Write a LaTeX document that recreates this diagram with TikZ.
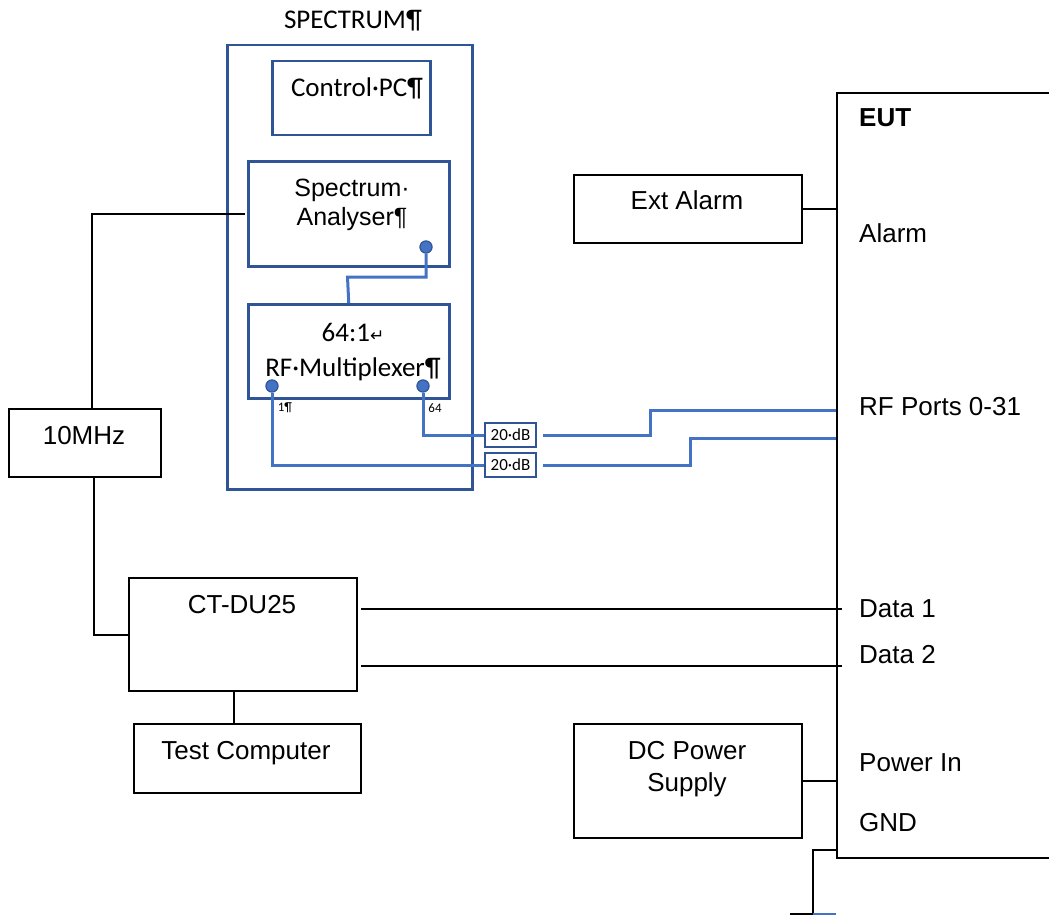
\documentclass[tikz,border=0pt]{standalone}
\usepackage{fontspec}
\setmainfont{Liberation Sans}
\newfontfamily\calibri{Carlito}
\newfontfamily\glyphfont{DejaVu Sans}
\usepackage{tikz}
\usetikzlibrary{positioning}
\definecolor{mNavy}{HTML}{2F5597}
\definecolor{mBlue}{HTML}{4472C4}

\begin{document}
\begin{tikzpicture}[x=1pt, y=-1pt,
    unit/.style={draw, line width=2pt, anchor=north west, inner sep=0pt},
    rack/.style={draw=mNavy, line width=2.5pt, anchor=north west, inner sep=0pt},
    txt/.style={font=\fontsize{26}{32}\selectfont, align=center, inner sep=0pt},
    msg/.style={font=\calibri\fontsize{27}{35}\selectfont, align=center, inner sep=0pt},
    tag/.style={font=\calibri\fontsize{13}{13}\selectfont, inner sep=0pt},
    port/.style={circle, fill=mBlue, draw=mNavy, line width=1pt, minimum size=12pt, inner sep=0pt},
    atten/.style={draw=mNavy, line width=2.5pt, fill=white, minimum width=51pt, minimum height=24pt,
      inner sep=0pt, font=\calibri\fontsize{17}{17}\selectfont},
    wire/.style={line width=2pt},
    coax/.style={mBlue, line width=3pt}]
    \useasboundingbox (0,0) rectangle (1049,915);

    % spectrum rack
    \node[msg] (spectxt) at (353,21) {SPECTRUM¶};
    \node[rack, minimum width=245pt, minimum height=444pt] (spectrum) at (226,44) {};
    \node[rack, minimum width=158pt, minimum height=74pt] (ctrlpc) at (271,60) {};
    \node[msg] (ctrlpctxt) at (357,88) {Control·PC¶};
    \node[rack, minimum width=201pt, minimum height=105pt] (analyser) at (247,160) {};
    \node[txt, font=\fontsize{25}{29}\selectfont] (analysertxt) at (352,205) {Spectrum·\\Analyser¶};
    \node[rack, minimum width=201pt, minimum height=94pt] (mux) at (247,303) {};
    \node[msg] (muxtxt) at (353,352) {64:1{\glyphfont\fontsize{17}{17}\selectfont ↵}\\RF·Multiplexer¶};
    \node[tag] (p1tag) at (285,408) {1¶};
    \node[tag] (p64tag) at (435,408) {64};
    \node[atten] (att1) at (510.5,435) {20·dB};
    \node[atten] (att2) at (510.5,465) {20·dB};

    % other units
    \node[unit, minimum width=152pt, minimum height=68pt] (tenmhz) at (8,408) {};
    \node[txt] (tenmhztxt) at (84,436) {10MHz};
    \node[unit, minimum width=228pt, minimum height=113pt] (ctdu) at (128,577) {};
    \node[txt] (ctdutxt) at (242,605) {CT-DU25};
    \node[unit, minimum width=227pt, minimum height=69pt] (testpc) at (133,723) {};
    \node[txt] (testpctxt) at (246,753) {Test Computer};
    \node[unit, minimum width=228pt, minimum height=68pt] (extalarm) at (573,174) {};
    \node[txt] (extalarmtxt) at (687,200) {Ext Alarm};
    \node[unit, minimum width=228pt, minimum height=114pt] (dcps) at (573,723) {};
    \node[txt] (dcpstxt) at (687,769) {DC Power\\Supply};

    % EUT, right side runs off the page
    \node[unit, minimum width=230pt, minimum height=765pt] (eut) at (836,92) {};
    \node[txt, anchor=west] (eutname) at (859,118) {\bfseries EUT};
    \node[txt, anchor=west] (alarmtxt) at (859,233) {Alarm};
    \node[txt, anchor=west] (rftxt) at (859,407) {RF Ports 0-31};
    \node[txt, anchor=west] (data1txt) at (859,609) {Data 1};
    \node[txt, anchor=west] (data2txt) at (859,655) {Data 2};
    \node[txt, anchor=west] (powertxt) at (859,763) {Power In};
    \node[txt, anchor=west] (gndtxt) at (859,823) {GND};

    % black wiring
    \draw[wire] ([xshift=7pt]tenmhz.north) |- ([xshift=-2pt]analyser.west);
    \draw[wire] ([xshift=9pt]tenmhz.south) |- (ctdu.west);
    \draw[wire] ([xshift=-9pt]ctdu.south) -- ([xshift=-13.5pt]testpc.north);
    \draw[wire] (extalarm.east) -- (extalarm.east -| eut.west);
    \draw[wire] (dcps.east) -- (dcps.east -| eut.west);
    \coordinate (d1) at ([xshift=3pt,yshift=25.5pt]ctdu.east);
    \coordinate (d2) at ([xshift=3pt,yshift=-31.5pt]ctdu.east);
    \draw[wire, shorten >=-6pt] (d1) -- (d1 -| eut.west);
    \draw[wire, shorten >=-6pt] (d2) -- (d2 -| eut.west);

    % ground lead
    \coordinate (gnd) at ([yshift=9pt]eut.south west);
    \coordinate (gndfoot) at (813,914);
    \draw[wire] (gnd) -| (gndfoot);
    \draw[wire] (gndfoot) -- ++(-23,0);
    \draw[coax, line width=2pt] (gndfoot) -- ++(23,0);

    % rf cabling
    \node[port] (saout) at (426,247) {};
    \node[port] (muxp1) at (272,386) {};
    \node[port] (muxp64) at (423,386) {};
    \coordinate (sabend) at (347.5,277);
    \coordinate (rf1) at ([yshift=65.5pt]eut.west);
    \coordinate (rf2) at ([yshift=37.5pt]eut.west);
    \draw[coax] (saout) |- (sabend) -- (mux.north);
    \draw[coax] (muxp64) |- (att1.west);
    \draw[coax] (muxp1) |- (att2.west);
    \draw[coax] ([xshift=6pt]att1.east) -- ++(107,0) |- (rf1);
    \draw[coax] ([xshift=6pt]att2.east) -- ++(147,0) |- (rf2);
    \node[port] at (saout) {};
    \node[port] at (muxp1) {};
    \node[port] at (muxp64) {};
\end{tikzpicture}
\end{document}
